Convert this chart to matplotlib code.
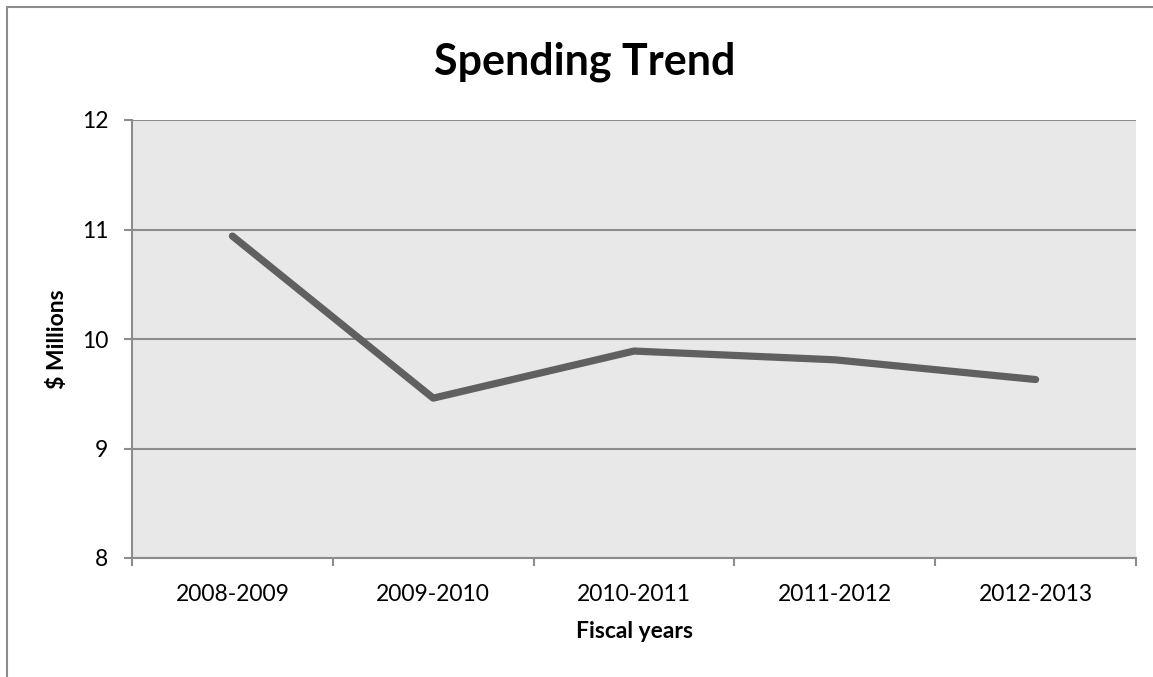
"""Spending trend line chart."""

import matplotlib

matplotlib.use("Agg")
import matplotlib.pyplot as plt
from matplotlib.patches import Rectangle

years = ["2008-2009", "2009-2010", "2010-2011", "2011-2012", "2012-2013"]
spending = [10.94, 9.46, 9.89, 9.81, 9.63]
y_ticks = [8, 9, 10, 11, 12]

plt.rcParams["font.family"] = ["Lato", "DejaVu Sans"]

W, H = 1153, 677
fig = plt.figure(figsize=(W / 100, H / 100), dpi=100)
ax = fig.add_axes([132 / W, 1 - 558 / H, (1136 - 132) / W, (558 - 120) / H])

# outer chart border (only top/left visible in the original)
fig.patches.append(Rectangle((7 / W, -0.05), 1.1, 1 - 7 / H + 0.05, transform=fig.transFigure,
                             fill=False, edgecolor="#8c8c8c", linewidth=1.5))

ax.set_facecolor("#e8e8e8")
xs = list(range(len(years)))
ax.plot(xs, spending, color="#606060", linewidth=5.2, solid_capstyle="round",
        solid_joinstyle="round", zorder=3)

ax.set_ylim(8, 12)
ax.set_xlim(-0.5, len(years) - 0.5)
ax.set_yticks(y_ticks)
ax.set_yticklabels([str(v) for v in y_ticks], fontsize=16.5)
ax.set_xticks(xs)
ax.set_xticklabels(years, fontsize=16.5)
ax.set_xticks([x - 0.5 for x in range(len(years) + 1)], minor=True)
ax.tick_params(axis="x", which="major", length=0, pad=19)
ax.tick_params(axis="x", which="minor", length=6, width=1.5, color="#8c8c8c", direction="out")
ax.tick_params(axis="y", length=6, width=1.5, color="#8c8c8c", pad=11)

ax.yaxis.grid(True, color="#8c8c8c", linewidth=1.5)
ax.set_axisbelow(True)
for side in ("top", "right"):
    ax.spines[side].set_visible(False)
for side in ("left", "bottom"):
    ax.spines[side].set_color("#8c8c8c")
    ax.spines[side].set_linewidth(1.5)

fig.text(585 / W, 1 - 75 / H, "Spending Trend", fontsize=31, fontweight="bold",
         ha="center", va="baseline")
fig.text(634 / W, 1 - 638 / H, "Fiscal years", fontsize=16.5, fontweight="bold",
         ha="center", va="baseline")
fig.text(57 / W, 1 - 339 / H, "$ Millions", fontsize=16.5, fontweight="bold",
         ha="center", va="center", rotation=90)

fig.savefig("out.png", dpi=100)
plt.close(fig)
